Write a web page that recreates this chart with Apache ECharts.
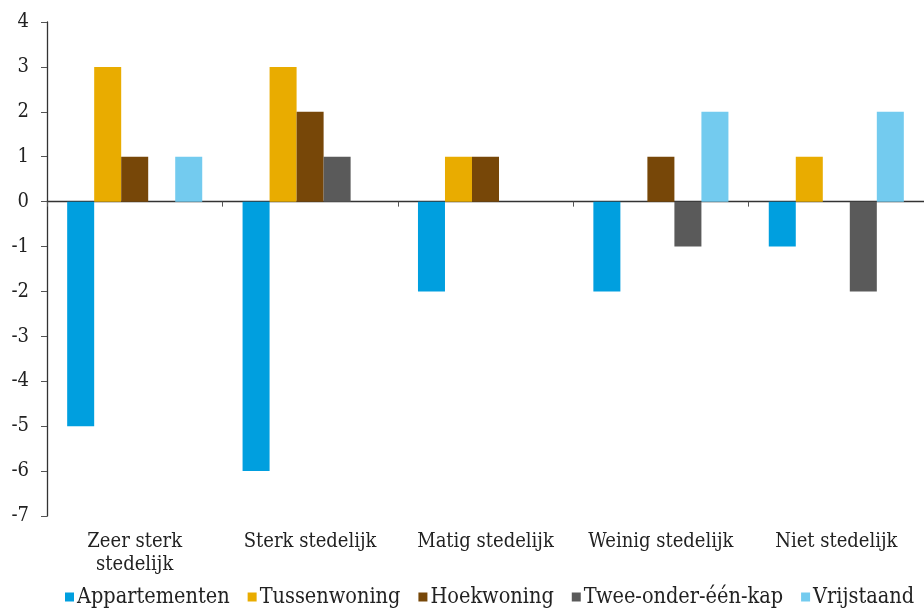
<!DOCTYPE html>
<html><head><meta charset="utf-8">
<script src="https://cdn.jsdelivr.net/npm/echarts@6/dist/echarts.min.js"></script>
<style>html,body{margin:0;padding:0;background:#fff}#c{width:924px;height:609px}</style>
</head><body><div id="c"></div>
<script>
const categories = ['Zeer sterk\nstedelijk', 'Sterk stedelijk', 'Matig stedelijk', 'Weinig stedelijk', 'Niet stedelijk'];
const appartementen = [-5, -6, -2, -2, -1];
const tussenwoning = [3, 3, 1, 0, 1];
const hoekwoning = [1, 2, 1, 1, 0];
const tweeOnderEenKap = [0, 1, 0, -1, -2];
const vrijstaand = [1, 0, 0, 2, 2];
const seriesNames = ['Appartementen', 'Tussenwoning', 'Hoekwoning', 'Twee-onder-één-kap', 'Vrijstaand'];
const colors = ['#009FDF', '#E9AC00', '#774708', '#5A5A5A', '#73CBEF'];
const FONT = 'DejaVu Serif Condensed';

const chart = echarts.init(document.getElementById('c'));
const data = [appartementen, tussenwoning, hoekwoning, tweeOnderEenKap, vrijstaand];
chart.setOption({
  animation: false,
  color: colors,
  textStyle: { fontFamily: FONT },
  grid: { left: 47, right: 0, top: 22, bottom: 93, containLabel: false },
  legend: {
    bottom: -4, left: 60,
    itemWidth: 9, itemHeight: 9, itemGap: 18,
    icon: 'rect',
    textStyle: { fontFamily: FONT, fontSize: 21.5, color: '#222', padding: [0, 0, 0, -2] },
    data: seriesNames
  },
  xAxis: [{
    type: 'category', data: categories,
    axisLine: { onZero: true, lineStyle: { color: '#333', width: 1.3 } },
    axisTick: { show: true, length: 5, lineStyle: { color: '#555' } },
    axisLabel: { show: false }
  }, {
    type: 'category', data: categories, position: 'bottom',
    axisLine: { show: false, onZero: false },
    axisTick: { show: false },
    axisLabel: { interval: 0, fontFamily: FONT, fontSize: 20, color: '#222', margin: 14, lineHeight: 23 }
  }],
  yAxis: {
    type: 'value', min: -7, max: 4, interval: 1,
    splitLine: { show: false },
    axisLine: { show: true, lineStyle: { color: '#333', width: 1.3 } },
    axisTick: { show: true, length: 6, lineStyle: { color: '#555' } },
    axisLabel: { fontFamily: FONT, fontSize: 20, color: '#222', margin: 18 }
  },
  series: seriesNames.map((n, i) => ({
    name: n, type: 'bar', data: data[i], xAxisIndex: 0,
    barGap: '0%', barCategoryGap: '23%'
  }))
});
</script></body></html>
